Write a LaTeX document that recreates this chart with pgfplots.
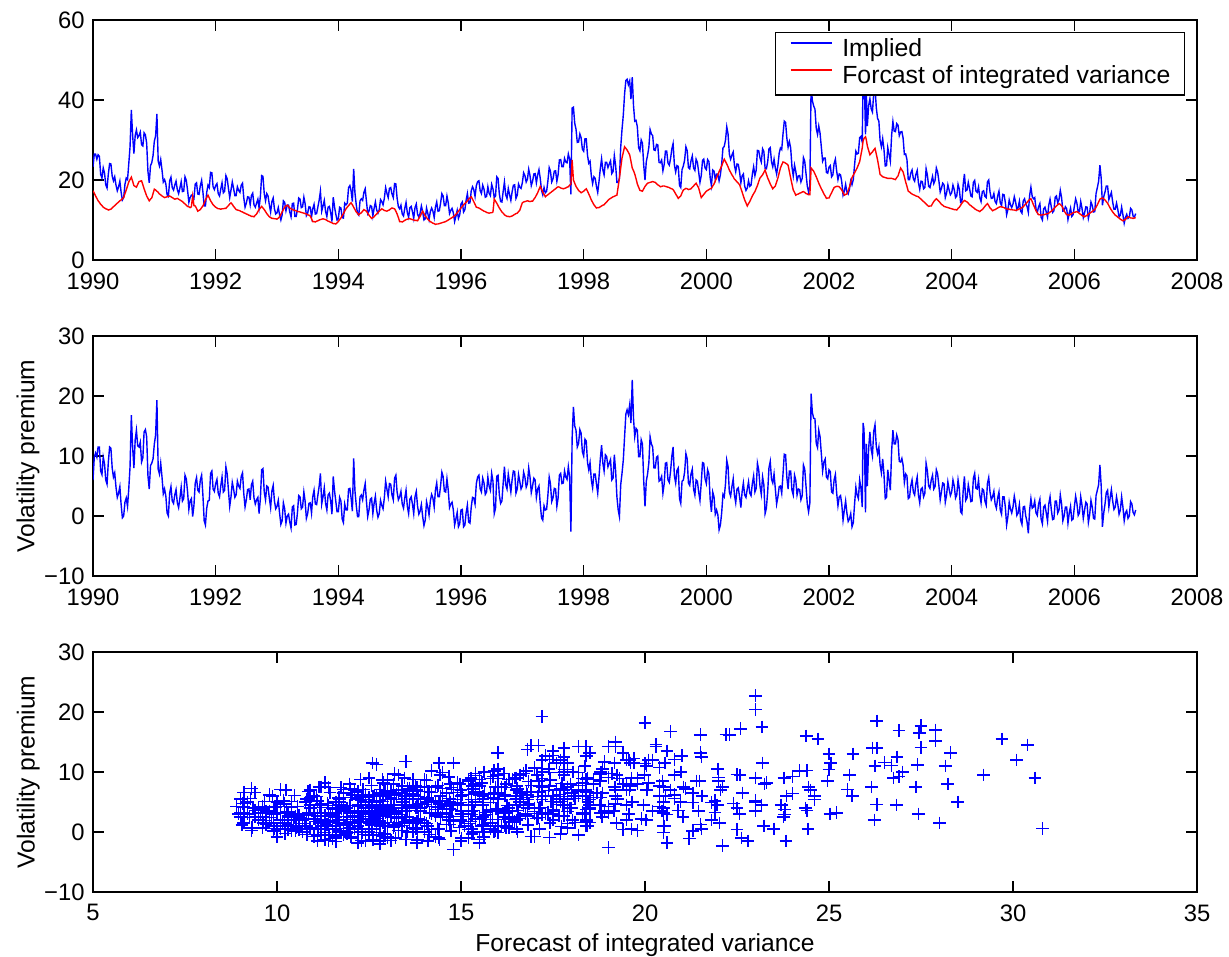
\documentclass[border=0pt]{standalone}
\usepackage{fontspec}
\setmainfont{Liberation Sans}
\usepackage{pgfplots}
\usepackage{pgfplotstable}
\pgfplotsset{compat=1.18}
\pgfplotstableread{
t fc pr im
1990.000 17.3 6.0 23.3
1990.021 16.7 9.8 26.5
1990.042 16.0 10.5 26.5
1990.063 15.4 9.8 25.2
1990.083 14.8 11.5 26.3
1990.104 14.4 11.5 25.9
1990.125 13.9 7.5 21.4
1990.146 13.6 6.9 20.5
1990.167 13.2 9.8 23.0
1990.188 13.0 8.7 21.7
1990.208 12.8 6.0 18.8
1990.229 12.7 5.3 18.0
1990.250 12.5 9.0 21.5
1990.271 12.6 11.5 24.1
1990.292 12.7 11.3 24.0
1990.313 13.0 8.0 21.0
1990.333 13.3 6.5 19.8
1990.354 13.6 7.2 20.8
1990.375 13.9 4.8 18.7
1990.396 14.2 3.1 17.3
1990.417 14.5 3.8 18.3
1990.438 14.8 4.9 19.7
1990.458 15.0 2.0 17.0
1990.479 15.3 -0.3 15.0
1990.500 15.6 0.0 15.6
1990.521 16.6 2.3 18.9
1990.542 17.5 3.0 20.5
1990.563 18.5 1.6 20.1
1990.583 19.5 4.5 24.0
1990.604 20.1 8.2 28.3
1990.625 20.7 16.8 37.5
1990.646 19.7 11.5 31.2
1990.667 18.6 8.0 26.6
1990.688 18.4 12.7 31.1
1990.708 18.2 14.3 32.5
1990.729 18.9 11.7 30.6
1990.750 19.6 11.5 31.1
1990.771 19.7 12.3 32.0
1990.792 19.8 9.0 28.8
1990.813 18.8 9.7 28.5
1990.833 17.8 14.0 31.8
1990.854 16.9 14.4 31.3
1990.875 16.0 13.2 29.2
1990.896 15.4 6.7 22.1
1990.917 14.8 4.5 19.3
1990.938 15.2 8.4 23.6
1990.958 15.5 8.8 24.3
1990.979 16.6 9.5 26.1
1991.000 17.7 12.0 29.7
1991.021 17.5 13.5 31.0
1991.042 17.2 19.3 36.5
1991.063 16.9 7.8 24.7
1991.083 16.5 7.0 23.5
1991.104 16.3 8.8 25.1
1991.125 16.0 6.5 22.5
1991.146 15.8 3.7 19.5
1991.167 15.6 4.5 20.1
1991.188 15.7 3.3 19.0
1991.208 15.8 0.5 16.3
1991.229 15.9 0.0 15.9
1991.250 16.0 3.8 19.8
1991.271 15.8 4.9 20.7
1991.292 15.6 2.5 18.1
1991.313 15.4 2.1 17.5
1991.333 15.2 3.5 18.7
1991.354 15.3 4.4 19.7
1991.375 15.4 2.2 17.6
1991.396 15.2 1.4 16.6
1991.417 15.0 3.0 18.0
1991.438 14.8 4.8 19.6
1991.458 14.6 2.5 17.1
1991.479 14.3 2.9 17.2
1991.500 14.0 6.8 20.8
1991.521 13.7 6.2 19.9
1991.542 13.4 4.0 17.4
1991.563 13.3 1.1 14.4
1991.583 13.1 2.5 15.6
1991.604 13.3 2.9 16.2
1991.625 16.0 -0.1 15.9
1991.646 13.6 1.8 15.4
1991.667 13.5 5.5 19.0
1991.688 12.9 6.4 19.3
1991.708 12.2 4.3 16.5
1991.729 12.4 4.0 16.4
1991.750 12.6 6.0 18.6
1991.771 13.1 6.8 19.9
1991.792 13.5 3.5 17.0
1991.813 14.3 -0.8 13.5
1991.833 15.0 -1.5 13.5
1991.854 15.6 1.3 16.9
1991.875 16.2 2.5 18.7
1991.896 15.5 2.6 18.1
1991.917 14.8 7.1 21.9
1991.938 14.3 7.5 21.8
1991.958 13.8 4.5 18.3
1991.979 13.5 4.1 17.6
1992.000 13.2 5.4 18.6
1992.021 13.0 6.1 19.1
1992.042 12.8 3.8 16.6
1992.063 12.8 3.2 16.0
1992.083 12.7 5.0 17.7
1992.104 12.8 6.5 19.3
1992.125 12.8 4.0 16.8
1992.146 12.9 4.3 17.2
1992.167 12.9 8.2 21.1
1992.188 13.3 7.0 20.3
1992.208 13.6 4.3 17.9
1992.229 14.0 1.6 15.6
1992.250 14.3 3.2 17.5
1992.271 13.9 5.6 19.5
1992.292 13.4 4.5 17.9
1992.313 13.0 3.1 16.1
1992.333 12.6 3.5 16.1
1992.354 12.5 5.8 18.3
1992.375 12.4 5.0 17.4
1992.396 12.3 4.6 16.9
1992.417 12.1 6.6 18.7
1992.438 12.0 7.2 19.2
1992.458 11.8 3.8 15.6
1992.479 11.7 1.5 13.2
1992.500 11.5 2.7 14.2
1992.521 11.4 4.4 15.8
1992.542 11.2 4.5 15.7
1992.563 11.1 2.7 13.8
1992.583 10.9 5.2 16.1
1992.604 10.9 5.8 16.7
1992.625 10.8 3.0 13.8
1992.646 11.2 2.0 13.2
1992.667 11.5 2.7 14.2
1992.688 12.1 3.1 15.2
1992.708 12.6 0.4 13.0
1992.729 13.0 2.9 15.9
1992.750 13.4 7.7 21.1
1992.771 13.0 7.9 20.9
1992.792 12.6 4.0 16.6
1992.813 12.1 2.7 14.8
1992.833 11.6 5.0 16.6
1992.854 11.2 4.8 16.0
1992.875 10.8 3.0 13.8
1992.896 10.6 1.4 12.0
1992.917 10.4 4.2 14.6
1992.938 10.4 5.1 15.5
1992.958 10.3 2.5 12.8
1992.979 10.3 1.2 11.5
1993.000 10.2 1.6 11.8
1993.021 10.5 2.6 13.1
1993.042 10.8 0.5 11.3
1993.063 11.4 -1.4 10.0
1993.083 12.0 -0.8 11.2
1993.104 12.6 2.2 14.8
1993.125 13.2 1.2 14.4
1993.146 13.5 -1.2 12.3
1993.167 13.7 0.0 13.7
1993.188 13.4 0.3 13.7
1993.208 13.0 -1.0 12.0
1993.229 12.8 -2.0 10.8
1993.250 12.6 1.5 14.1
1993.271 12.5 1.7 14.2
1993.292 12.4 -1.5 10.9
1993.313 12.3 -1.4 10.9
1993.333 12.1 0.5 12.6
1993.354 12.1 3.4 15.5
1993.375 12.0 3.2 15.2
1993.396 11.9 1.2 13.1
1993.417 11.8 1.5 13.3
1993.438 11.7 4.0 15.7
1993.458 11.6 2.5 14.1
1993.479 11.5 -0.4 11.1
1993.500 11.3 0.4 11.7
1993.521 11.2 2.1 13.3
1993.542 11.0 2.2 13.2
1993.563 10.3 0.5 10.8
1993.583 9.6 3.2 12.8
1993.604 9.6 4.3 13.9
1993.625 9.5 2.0 11.5
1993.646 9.7 1.9 11.6
1993.667 9.8 3.5 13.3
1993.688 10.0 5.0 15.0
1993.708 10.1 7.1 17.2
1993.729 10.2 2.0 12.2
1993.750 10.3 3.2 13.5
1993.771 10.2 4.7 14.9
1993.792 10.1 2.1 12.2
1993.813 9.9 1.0 10.9
1993.833 9.7 3.5 13.2
1993.854 9.6 3.8 13.4
1993.875 9.4 2.5 11.9
1993.896 9.3 0.3 9.6
1993.917 9.1 6.6 15.7
1993.938 9.1 4.2 13.3
1993.958 9.0 2.5 11.5
1993.979 9.3 0.7 10.0
1994.000 9.6 0.7 10.3
1994.021 10.1 3.1 13.2
1994.042 10.5 2.5 13.0
1994.063 11.1 -0.5 10.6
1994.083 11.6 -1.1 10.5
1994.104 12.2 2.0 14.2
1994.125 12.8 1.0 13.8
1994.146 13.2 1.0 14.2
1994.167 13.6 4.5 18.1
1994.188 14.0 4.6 18.6
1994.208 14.3 3.0 17.3
1994.229 13.8 0.8 14.6
1994.250 13.2 9.6 22.8
1994.271 12.6 4.2 16.8
1994.292 12.0 1.8 13.8
1994.313 11.7 -0.1 11.6
1994.333 11.3 -0.1 11.2
1994.354 11.6 3.2 14.8
1994.375 11.8 3.5 15.3
1994.396 12.2 2.7 14.9
1994.417 12.6 4.3 16.9
1994.438 12.4 5.4 17.8
1994.458 12.2 2.5 14.7
1994.479 11.7 -0.1 11.6
1994.500 11.2 1.0 12.2
1994.521 10.8 2.8 13.6
1994.542 10.4 3.0 13.4
1994.563 10.6 0.4 11.0
1994.583 10.8 2.1 12.9
1994.604 11.2 3.3 14.5
1994.625 11.5 1.0 12.5
1994.646 11.9 -0.2 11.7
1994.667 12.2 0.4 12.6
1994.688 12.5 2.6 15.1
1994.708 12.8 1.8 14.6
1994.729 12.6 1.2 13.8
1994.750 12.4 3.0 15.4
1994.771 12.3 5.8 18.1
1994.792 12.2 4.5 16.7
1994.813 12.4 3.2 15.6
1994.833 12.5 5.4 17.9
1994.854 12.8 5.3 18.1
1994.875 13.0 3.5 16.5
1994.896 12.9 2.7 15.6
1994.917 12.8 6.3 19.1
1994.938 12.2 6.8 19.0
1994.958 11.5 4.0 15.5
1994.979 10.6 2.7 13.3
1995.000 9.6 3.2 12.8
1995.021 9.6 4.1 13.7
1995.042 9.5 2.0 11.5
1995.063 9.7 1.3 11.0
1995.083 9.9 3.0 12.9
1995.104 10.1 4.3 14.4
1995.125 10.2 1.6 11.8
1995.146 10.3 0.4 10.7
1995.167 10.3 2.8 13.1
1995.188 10.2 3.2 13.4
1995.208 10.1 2.0 12.1
1995.229 10.0 0.4 10.4
1995.250 9.9 3.2 13.1
1995.271 9.9 4.1 14.0
1995.292 9.8 1.6 11.4
1995.313 10.4 0.3 10.7
1995.333 10.9 0.8 11.7
1995.354 11.6 1.9 13.5
1995.375 12.2 -0.1 12.1
1995.396 11.6 -1.6 10.0
1995.417 11.0 -0.7 10.3
1995.438 10.6 2.4 13.0
1995.458 10.2 1.5 11.7
1995.479 9.9 0.2 10.1
1995.500 9.6 2.5 12.1
1995.521 9.4 3.6 13.0
1995.542 9.2 3.0 12.2
1995.563 9.1 1.5 10.6
1995.583 8.9 4.3 13.2
1995.604 9.0 5.5 14.5
1995.625 9.0 3.2 12.2
1995.646 9.1 3.2 12.3
1995.667 9.2 5.0 14.2
1995.688 9.3 7.3 16.6
1995.708 9.4 6.6 16.0
1995.729 9.5 4.1 13.6
1995.750 9.6 4.0 13.6
1995.771 9.8 6.2 16.0
1995.792 10.0 4.3 14.3
1995.813 10.2 1.4 11.6
1995.833 10.4 2.0 12.4
1995.854 10.6 2.3 12.9
1995.875 10.8 1.0 11.8
1995.896 11.1 -1.5 9.6
1995.917 11.4 -0.5 10.9
1995.938 11.8 0.6 12.4
1995.958 12.2 -1.8 10.4
1995.979 12.6 -1.3 11.3
1996.000 13.0 1.0 14.0
1996.021 13.4 1.1 14.5
1996.042 13.8 -1.8 12.0
1996.063 14.1 -1.5 12.6
1996.083 14.4 0.5 14.9
1996.104 14.8 1.8 16.6
1996.125 15.2 -1.0 14.2
1996.146 15.5 -1.2 14.3
1996.167 15.8 1.5 17.3
1996.188 15.2 3.1 18.3
1996.208 14.6 3.0 17.6
1996.229 13.9 2.0 15.9
1996.250 13.2 5.4 18.6
1996.271 13.1 6.5 19.6
1996.292 13.0 6.8 19.8
1996.313 12.8 4.5 17.3
1996.333 12.6 4.0 16.6
1996.354 12.4 6.3 18.7
1996.375 12.2 5.5 17.7
1996.396 12.1 3.6 15.7
1996.417 11.9 4.0 15.9
1996.438 11.8 6.5 18.3
1996.458 11.7 5.0 16.7
1996.479 11.8 4.3 16.1
1996.500 11.8 7.1 18.9
1996.521 12.0 5.8 17.8
1996.542 15.2 0.4 15.6
1996.563 14.7 1.3 16.0
1996.583 14.2 6.6 20.8
1996.604 13.6 6.8 20.4
1996.625 13.0 3.5 16.5
1996.646 12.5 2.1 14.6
1996.667 12.0 2.5 14.5
1996.688 11.7 5.5 17.2
1996.708 11.3 8.2 19.5
1996.729 11.1 5.2 16.3
1996.750 10.9 4.5 15.4
1996.771 10.9 7.0 17.9
1996.792 10.8 5.5 16.3
1996.813 10.9 4.0 14.9
1996.833 11.0 6.0 17.0
1996.854 11.2 7.5 18.7
1996.875 11.4 7.4 18.8
1996.896 11.6 3.8 15.4
1996.917 11.7 4.5 16.2
1996.938 12.1 6.9 19.0
1996.958 12.4 5.8 18.2
1996.979 13.4 4.5 17.9
1997.000 14.3 5.0 19.3
1997.021 14.5 7.3 21.8
1997.042 14.6 6.5 21.1
1997.063 14.7 4.8 19.5
1997.083 14.8 5.4 20.2
1997.104 14.7 8.0 22.7
1997.125 14.6 6.5 21.1
1997.146 14.7 3.9 18.6
1997.167 14.7 5.0 19.7
1997.188 15.2 6.3 21.5
1997.208 15.6 6.0 21.6
1997.229 16.2 3.1 19.3
1997.250 16.8 4.5 21.3
1997.271 17.6 5.0 22.6
1997.292 18.4 2.0 20.4
1997.313 17.7 -0.3 17.4
1997.333 17.0 -0.7 16.3
1997.354 16.4 1.7 18.1
1997.375 15.8 1.0 16.8
1997.396 16.1 1.1 17.2
1997.417 16.3 3.5 19.8
1997.438 16.6 6.5 23.1
1997.458 16.8 5.4 22.2
1997.479 17.1 2.4 19.5
1997.500 17.3 3.0 20.3
1997.521 17.6 4.6 22.2
1997.542 17.8 4.5 22.3
1997.563 18.1 1.6 19.7
1997.583 18.3 3.0 21.3
1997.604 18.2 6.8 25.0
1997.625 18.0 7.1 25.1
1997.646 17.9 5.4 23.3
1997.667 17.8 5.5 23.3
1997.688 17.9 7.5 25.4
1997.708 18.0 6.5 24.5
1997.729 18.2 6.1 24.3
1997.750 18.3 8.2 26.5
1997.771 18.7 6.5 25.2
1997.792 19.0 -2.6 16.4
1997.812 25.0 13.0 38.0
1997.833 20.0 18.2 38.2
1997.854 19.2 15.0 34.2
1997.875 18.4 14.3 32.7
1997.896 17.9 11.5 29.4
1997.917 17.4 12.1 29.5
1997.938 17.1 14.4 31.5
1997.958 16.8 13.8 30.6
1997.979 17.0 10.7 27.7
1998.000 17.2 10.0 27.2
1998.021 17.5 12.8 30.3
1998.042 17.8 12.5 30.3
1998.063 17.2 8.9 26.1
1998.083 16.5 7.7 24.2
1998.104 15.8 8.9 24.7
1998.125 15.0 6.0 21.0
1998.146 14.4 4.7 19.1
1998.167 13.8 7.0 20.8
1998.188 13.4 7.0 20.4
1998.208 13.0 5.4 18.4
1998.229 13.1 3.8 16.9
1998.250 13.1 6.5 19.6
1998.271 13.3 9.5 22.8
1998.292 13.5 11.8 25.3
1998.313 13.7 8.8 22.5
1998.333 13.8 7.5 21.3
1998.354 14.2 10.2 24.4
1998.375 14.5 9.9 24.4
1998.396 14.9 8.2 23.1
1998.417 15.2 8.8 24.0
1998.438 15.4 9.4 24.8
1998.458 15.6 6.0 21.6
1998.479 15.8 6.3 22.1
1998.500 15.9 10.2 26.1
1998.521 16.1 7.5 23.6
1998.542 16.2 3.2 19.4
1998.563 18.4 1.0 19.4
1998.583 20.5 -0.1 20.4
1998.604 23.0 5.2 28.2
1998.625 25.5 7.1 32.6
1998.646 26.9 9.3 36.2
1998.667 28.3 13.2 41.5
1998.688 27.9 17.0 44.9
1998.708 27.5 17.7 45.2
1998.729 26.9 16.9 43.8
1998.750 26.3 18.5 44.8
1998.771 24.7 15.5 40.2
1998.792 23.0 22.7 45.7
1998.813 22.3 16.2 38.5
1998.833 21.5 13.2 34.7
1998.854 20.3 14.6 34.9
1998.875 19.0 14.3 33.3
1998.896 18.2 9.9 28.1
1998.917 17.4 9.9 27.3
1998.938 17.3 12.7 30.0
1998.958 17.2 12.0 29.2
1998.979 17.8 5.9 23.7
1999.000 18.4 1.6 20.0
1999.021 18.8 5.8 24.6
1999.042 19.2 7.0 26.2
1999.063 19.3 8.9 28.2
1999.083 19.4 13.2 32.6
1999.104 19.5 12.0 31.5
1999.125 19.6 11.5 31.1
1999.146 19.5 8.0 27.5
1999.167 19.4 8.0 27.4
1999.188 19.1 9.8 28.9
1999.208 18.8 10.0 28.8
1999.229 18.6 5.8 24.4
1999.250 18.3 6.0 24.3
1999.271 18.4 6.6 25.0
1999.292 18.5 3.8 22.3
1999.313 18.5 5.4 23.9
1999.333 18.4 8.8 27.2
1999.354 18.3 8.9 27.2
1999.375 18.2 6.0 24.2
1999.396 18.1 5.6 23.7
1999.417 17.9 7.5 25.4
1999.438 17.8 10.0 27.8
1999.458 17.6 11.5 29.1
1999.479 17.1 6.7 23.8
1999.500 16.5 5.5 22.0
1999.521 16.0 7.6 23.6
1999.542 15.4 8.0 23.4
1999.563 15.7 2.9 18.6
1999.583 16.0 2.1 18.1
1999.604 16.8 5.8 22.6
1999.625 17.5 6.0 23.5
1999.646 17.7 7.3 25.0
1999.667 17.9 10.4 28.3
1999.688 17.8 9.5 27.3
1999.708 17.6 5.5 23.1
1999.729 17.7 5.1 22.8
1999.750 17.8 7.0 24.8
1999.771 18.2 7.8 26.0
1999.792 18.5 4.5 23.0
1999.813 18.9 3.5 22.4
1999.833 19.2 6.0 25.2
1999.854 18.6 5.8 24.4
1999.875 18.0 4.0 22.0
1999.896 16.8 2.6 19.4
1999.917 15.6 5.5 21.1
1999.938 16.0 8.9 24.9
1999.958 16.4 8.8 25.2
1999.979 16.8 6.2 23.0
2000.000 17.2 5.4 22.6
2000.021 17.4 7.7 25.1
2000.042 17.6 7.0 24.6
2000.063 17.8 2.7 20.5
2000.083 17.9 0.7 18.6
2000.104 18.5 4.0 22.5
2000.125 19.0 3.2 22.2
2000.146 19.8 0.3 20.1
2000.167 20.5 1.0 21.5
2000.188 21.3 0.2 21.5
2000.208 22.1 -2.3 19.8
2000.229 22.8 -1.5 21.3
2000.250 23.5 0.5 24.0
2000.271 24.4 3.6 28.0
2000.292 25.2 3.2 28.4
2000.313 24.6 5.4 30.0
2000.333 24.0 9.3 33.3
2000.354 23.3 8.2 31.5
2000.375 22.5 4.0 26.5
2000.396 21.9 3.3 25.2
2000.417 21.3 4.9 26.2
2000.438 20.8 6.2 27.0
2000.458 20.2 3.5 23.7
2000.479 19.9 2.2 22.1
2000.500 19.5 4.5 24.0
2000.521 19.2 4.7 23.9
2000.542 18.8 3.2 22.0
2000.563 17.9 1.4 19.3
2000.583 17.0 4.0 21.0
2000.604 16.0 5.5 21.5
2000.625 15.0 3.5 18.5
2000.646 14.3 3.1 17.4
2000.667 13.5 4.5 18.0
2000.688 14.1 5.7 19.8
2000.708 14.6 3.8 18.4
2000.729 15.3 3.4 18.7
2000.750 16.0 5.4 21.4
2000.771 16.6 6.7 23.3
2000.792 17.1 4.0 21.1
2000.813 17.9 4.6 22.5
2000.833 18.6 8.8 27.4
2000.854 19.6 7.7 27.3
2000.875 20.5 5.0 25.5
2000.896 20.9 3.6 24.5
2000.917 21.3 6.5 27.8
2000.938 21.9 5.2 27.1
2000.958 22.5 0.4 22.9
2000.979 21.5 1.3 22.8
2001.000 20.5 4.0 24.5
2001.021 19.8 8.0 27.8
2001.042 19.0 9.1 28.1
2001.063 18.4 6.1 24.5
2001.083 17.8 5.5 23.3
2001.104 18.2 7.0 25.2
2001.125 18.5 4.5 23.0
2001.146 19.5 2.0 21.5
2001.167 20.5 3.2 23.7
2001.188 21.8 4.9 26.7
2001.208 23.0 5.0 28.0
2001.229 23.8 3.8 27.6
2001.250 24.5 7.0 31.5
2001.271 24.4 10.3 34.7
2001.292 24.2 10.2 34.4
2001.313 24.0 6.4 30.4
2001.333 23.7 4.5 28.2
2001.354 22.1 7.5 29.6
2001.375 20.5 7.5 28.0
2001.396 19.0 4.3 23.3
2001.417 17.5 3.5 21.0
2001.438 16.9 6.8 23.7
2001.458 16.2 6.0 22.2
2001.479 16.4 3.5 19.9
2001.500 16.5 4.5 21.0
2001.521 16.7 4.4 21.1
2001.542 16.8 2.7 19.5
2001.563 17.0 3.4 20.4
2001.583 17.1 8.5 25.6
2001.604 16.9 7.8 24.7
2001.625 16.6 5.0 21.6
2001.646 16.5 2.0 18.5
2001.667 16.3 0.7 17.0
2001.688 16.3 2.2 18.5
2001.708 23.0 20.4 43.4
2001.729 22.6 17.2 39.8
2001.750 22.2 16.3 38.5
2001.771 21.5 16.2 37.7
2001.792 20.8 12.1 32.9
2001.813 20.0 11.4 31.4
2001.833 19.2 14.3 33.5
2001.854 18.5 13.2 31.7
2001.875 17.8 10.4 28.2
2001.896 17.2 7.5 24.7
2001.917 16.5 9.0 25.5
2001.938 16.0 9.5 25.5
2001.958 15.4 6.5 21.9
2001.979 15.5 6.2 21.7
2002.000 15.5 7.7 23.2
2002.021 16.2 7.4 23.6
2002.042 16.8 4.0 20.8
2002.063 17.5 3.8 21.3
2002.083 18.1 6.0 24.1
2002.104 18.3 6.9 25.2
2002.125 18.4 3.8 22.2
2002.146 18.4 1.7 20.1
2002.167 18.3 3.2 21.5
2002.188 17.9 3.4 21.3
2002.208 17.5 2.0 19.5
2002.229 16.9 -0.7 16.2
2002.250 16.2 1.0 17.2
2002.271 16.4 2.5 18.9
2002.292 16.5 0.5 17.0
2002.313 17.4 -0.9 16.5
2002.333 18.2 -0.5 17.7
2002.354 19.4 0.4 19.8
2002.375 20.6 -1.8 18.8
2002.396 21.2 -1.1 20.1
2002.417 21.8 2.0 23.8
2002.438 22.4 4.8 27.2
2002.458 23.0 3.5 26.5
2002.479 23.8 2.9 26.7
2002.500 24.6 6.0 30.6
2002.521 26.3 4.6 30.9
2002.542 28.0 1.5 29.5
2002.555 29.7 15.5 45.2
2002.570 30.4 14.5 44.9
2002.583 30.6 9.0 39.6
2002.595 30.8 0.6 31.4
2002.608 30.1 12.0 42.1
2002.625 28.5 5.0 33.5
2002.646 27.4 11.2 38.6
2002.667 26.3 14.0 40.3
2002.688 26.7 11.1 37.8
2002.708 27.0 10.0 37.0
2002.729 27.5 14.1 41.6
2002.750 27.9 15.2 43.1
2002.771 26.5 11.6 38.1
2002.792 25.0 10.4 35.4
2002.813 23.2 11.5 34.7
2002.833 21.4 8.5 29.9
2002.854 21.1 7.2 28.3
2002.875 20.8 9.5 30.3
2002.896 20.7 7.0 27.7
2002.917 20.6 2.9 23.5
2002.938 20.5 3.1 23.6
2002.958 20.4 7.7 28.1
2002.979 20.4 6.0 26.4
2003.000 20.4 4.3 24.7
2003.021 20.4 10.8 31.2
2003.042 20.3 14.3 34.6
2003.063 20.2 12.0 32.2
2003.083 20.1 12.0 32.1
2003.104 20.6 13.5 34.1
2003.125 21.0 12.7 33.7
2003.146 22.0 9.1 31.1
2003.167 23.0 9.0 32.0
2003.188 22.5 9.6 32.1
2003.208 22.0 8.5 30.5
2003.229 20.8 5.6 26.4
2003.250 19.5 7.0 26.5
2003.271 18.4 6.7 25.1
2003.292 17.2 2.9 20.1
2003.313 17.0 3.1 20.1
2003.333 16.7 5.0 21.7
2003.354 16.5 6.0 22.5
2003.375 16.3 4.0 20.3
2003.396 16.2 3.5 19.7
2003.417 16.0 5.4 21.4
2003.438 15.9 6.5 22.4
2003.458 15.8 3.5 19.3
2003.479 15.5 2.2 17.7
2003.500 15.2 4.5 19.7
2003.521 14.9 4.7 19.6
2003.542 14.6 3.2 17.8
2003.563 14.3 3.8 18.1
2003.583 14.0 8.8 22.8
2003.604 13.7 7.5 21.2
2003.625 13.4 5.0 18.4
2003.646 13.5 4.6 18.1
2003.667 13.5 6.0 19.5
2003.688 14.1 6.8 20.9
2003.708 14.6 4.5 19.1
2003.729 15.0 4.9 19.9
2003.750 15.3 7.7 23.0
2003.771 15.0 7.0 22.0
2003.792 14.7 5.0 19.7
2003.813 14.3 2.7 17.0
2003.833 13.9 4.0 17.9
2003.854 13.7 5.5 19.2
2003.875 13.4 5.4 18.8
2003.896 13.3 2.3 15.6
2003.917 13.2 3.5 16.7
2003.938 13.1 5.7 18.8
2003.958 13.0 4.5 17.5
2003.979 12.9 3.4 16.3
2004.000 12.8 4.0 16.8
2004.021 12.7 6.0 18.7
2004.042 12.6 5.0 17.6
2004.063 12.6 3.0 15.6
2004.083 12.5 3.5 16.0
2004.104 12.9 6.0 18.9
2004.125 13.2 4.5 17.7
2004.146 13.7 0.7 14.4
2004.167 14.2 0.4 14.6
2004.188 14.6 4.3 18.9
2004.208 14.9 6.6 21.5
2004.229 14.7 2.6 17.3
2004.250 14.5 3.0 17.5
2004.271 14.2 5.2 19.4
2004.292 13.8 4.0 17.8
2004.313 13.6 2.4 16.0
2004.333 13.3 2.5 15.8
2004.354 13.1 6.3 19.4
2004.375 12.8 7.1 19.9
2004.396 12.6 4.6 17.2
2004.417 12.4 4.5 16.9
2004.438 12.3 6.0 18.3
2004.458 12.1 3.5 15.6
2004.479 12.4 2.2 14.6
2004.500 12.6 4.5 17.1
2004.521 13.0 4.3 17.3
2004.542 13.4 2.5 15.9
2004.563 13.8 1.8 15.6
2004.583 14.1 5.4 19.5
2004.604 13.6 6.4 20.0
2004.625 13.0 4.0 17.0
2004.646 12.7 2.7 15.4
2004.667 12.3 3.2 15.5
2004.688 12.5 4.1 16.6
2004.708 12.6 2.0 14.6
2004.729 12.8 1.3 14.1
2004.750 13.0 3.0 16.0
2004.771 13.2 4.0 17.2
2004.792 13.3 1.0 14.3
2004.813 13.3 0.3 13.6
2004.833 13.2 3.2 16.4
2004.854 13.1 3.2 16.3
2004.875 12.9 1.5 14.4
2004.896 12.8 -1.5 11.3
2004.917 12.7 -0.1 12.6
2004.938 12.7 2.3 15.0
2004.958 12.6 1.2 13.8
2004.979 12.6 0.5 13.1
2005.000 12.5 1.5 14.0
2005.021 12.5 3.3 15.8
2005.042 12.4 2.1 14.5
2005.063 12.5 0.1 12.6
2005.083 12.6 0.5 13.1
2005.104 12.8 1.9 14.7
2005.125 12.9 -0.7 12.2
2005.146 13.1 -1.4 11.7
2005.167 13.3 1.5 14.8
2005.188 13.7 1.6 15.3
2005.208 14.0 0.0 14.0
2005.229 14.4 -1.0 13.4
2005.250 14.8 -2.9 11.9
2005.271 15.1 1.0 16.1
2005.292 15.3 2.9 18.2
2005.313 14.6 1.3 15.9
2005.333 13.8 1.5 15.3
2005.354 13.1 2.5 15.6
2005.375 12.3 0.5 12.8
2005.396 11.8 0.1 11.9
2005.417 11.3 2.0 13.3
2005.438 11.3 2.8 14.1
2005.458 11.2 -0.5 10.7
2005.479 11.3 -1.3 10.0
2005.500 11.3 1.5 12.8
2005.521 11.4 1.8 13.2
2005.542 11.5 0.5 12.0
2005.563 11.6 -0.9 10.7
2005.583 11.7 2.0 13.7
2005.604 12.0 3.2 15.2
2005.625 12.2 1.0 13.2
2005.646 12.5 -0.6 11.9
2005.667 12.8 -0.5 12.3
2005.688 13.2 2.5 15.7
2005.708 13.5 2.5 16.0
2005.729 13.8 0.5 14.3
2005.750 14.1 1.0 15.1
2005.771 13.9 3.5 17.4
2005.792 13.6 2.0 15.6
2005.813 13.0 -0.8 12.2
2005.833 12.3 0.0 12.3
2005.854 11.8 1.5 13.3
2005.875 11.3 1.5 12.8
2005.896 11.3 -1.2 10.1
2005.917 11.2 0.5 11.7
2005.938 11.4 1.6 13.0
2005.958 11.6 -0.7 10.9
2005.979 11.8 -0.5 11.3
2006.000 11.9 1.5 13.4
2006.021 12.0 3.3 15.3
2006.042 12.1 2.1 14.2
2006.063 11.9 0.1 12.0
2006.083 11.6 0.5 12.1
2006.104 11.4 3.2 14.6
2006.125 11.1 1.8 12.9
2006.146 11.0 -0.4 10.6
2006.167 10.8 1.0 11.8
2006.188 11.0 2.3 13.3
2006.208 11.2 2.0 13.2
2006.229 11.5 -1.1 10.4
2006.250 11.7 0.2 11.9
2006.271 11.9 2.6 14.5
2006.292 12.1 1.5 13.6
2006.313 12.4 -0.4 12.0
2006.333 12.6 -0.5 12.1
2006.354 13.2 3.4 16.6
2006.375 13.8 4.3 18.1
2006.396 14.5 5.2 19.7
2006.417 15.2 8.5 23.7
2006.438 15.4 5.0 20.4
2006.458 15.5 -1.8 13.7
2006.479 15.3 0.5 15.8
2006.500 15.0 2.0 17.0
2006.521 14.6 3.9 18.5
2006.542 14.2 4.3 18.5
2006.563 13.6 1.5 15.1
2006.583 13.0 3.0 16.0
2006.604 12.5 4.4 16.9
2006.625 12.0 2.5 14.5
2006.646 11.6 1.1 12.7
2006.667 11.2 1.5 12.7
2006.688 11.0 3.2 14.2
2006.708 10.7 2.0 12.7
2006.729 10.5 0.3 10.8
2006.750 10.2 1.0 11.2
2006.771 10.0 3.2 13.2
2006.792 9.8 1.5 11.3
2006.813 10.0 -0.8 9.2
2006.833 10.1 0.5 10.6
2006.854 10.5 0.9 11.4
2006.875 10.8 -0.4 10.4
2006.896 10.7 0.0 10.7
2006.917 10.5 2.4 12.9
2006.938 10.5 2.0 12.5
2006.958 10.4 0.6 11.0
2006.979 10.5 0.2 10.7
2007.000 10.6 1.0 11.6
}\data

% further points of the dense scatter cloud (forecast, premium)
\pgfplotstableread{
x y
9.05 1.2
8.95 3.0
9.08 4.8
9.32 0.8
9.25 2.4
9.35 4.0
9.28 5.6
9.62 1.5
9.55 3.3
9.66 5.1
9.93 0.6
9.85 2.4
9.95 4.2
9.88 6.0
10.22 -0.2
10.15 1.6
10.25 3.4
10.18 5.2
10.24 7.0
10.52 0.7
10.46 2.5
10.55 4.3
10.48 6.1
10.83 -0.4
10.76 1.4
10.85 3.2
10.78 5.0
10.84 6.8
11.12 0.5
11.05 2.3
11.15 4.1
11.08 5.9
11.14 7.5
11.42 -0.6
11.36 1.2
11.45 3.0
11.38 4.8
11.44 6.6
11.72 0.3
11.66 2.1
11.75 3.9
11.68 5.7
11.74 7.4
12.03 -1.0
11.96 0.8
12.05 2.6
11.98 4.4
12.04 6.2
11.97 8.0
12.33 -0.1
12.26 1.7
12.35 3.5
12.28 5.3
12.34 7.1
12.27 8.8
12.62 -1.2
12.56 0.6
12.65 2.4
12.58 4.2
12.64 6.0
12.57 7.8
12.93 -0.3
12.86 1.5
12.95 3.3
12.88 5.1
12.94 6.9
12.87 8.7
13.22 -1.0
13.16 0.8
13.25 2.6
13.18 4.4
13.24 6.2
13.17 8.0
13.53 0.0
13.46 1.8
13.55 3.6
13.48 5.4
13.54 7.2
13.47 9.0
13.82 -1.3
13.76 0.5
13.85 2.3
13.78 4.1
13.84 5.9
13.77 7.7
14.13 -0.4
14.06 1.4
14.15 3.2
14.08 5.0
14.14 6.8
14.07 8.6
14.42 -1.2
14.36 0.6
14.45 2.4
14.38 4.2
14.44 6.0
14.37 7.8
14.43 9.5
14.73 0.2
14.66 2.0
14.75 3.8
14.68 5.6
14.74 7.4
14.67 9.2
15.02 -1.0
14.96 0.8
15.05 2.6
14.98 4.4
15.04 6.2
14.97 8.0
15.33 0.0
15.26 1.8
15.35 3.6
15.28 5.4
15.34 7.2
15.27 9.0
15.62 -0.8
15.56 1.0
15.65 2.8
15.58 4.6
15.64 6.4
15.57 8.2
15.63 10.0
15.93 0.3
15.86 2.1
15.95 3.9
15.88 5.7
15.94 7.5
15.87 9.3
16.22 0.8
16.16 2.6
16.25 4.4
16.18 6.2
16.24 8.0
16.17 9.8
16.53 0.0
16.46 1.8
16.55 3.6
16.48 5.4
16.54 7.2
16.47 9.0
16.82 1.2
16.76 3.0
16.85 4.8
16.78 6.6
16.84 8.4
16.77 10.2
17.13 0.5
17.06 2.3
17.15 4.1
17.08 5.9
17.14 7.7
17.07 9.5
17.42 1.5
17.36 3.3
17.45 5.1
17.38 6.9
17.44 8.7
17.37 10.5
17.73 0.9
17.66 2.7
17.75 4.5
17.68 6.3
17.74 8.1
17.67 9.9
18.03 2.0
17.96 4.0
18.05 6.0
17.98 8.0
18.04 10.0
18.43 1.0
18.36 3.0
18.45 5.0
18.38 7.0
18.44 9.0
18.37 11.0
18.83 2.5
18.76 4.5
18.85 6.5
18.78 8.5
18.84 10.5
19.23 1.5
19.16 3.5
19.25 5.5
19.18 7.5
19.24 9.5
19.17 11.5
19.63 0.5
19.56 3.0
19.65 5.0
19.58 7.0
19.64 9.0
19.57 12.0
20.03 2.0
19.96 4.5
20.05 7.0
19.98 9.5
20.04 11.0
20.53 1.0
20.46 3.5
20.55 6.0
20.48 8.5
20.54 11.5
21.03 2.5
20.96 5.0
21.05 7.5
20.98 10.0
21.53 0.5
21.46 3.5
21.55 6.0
21.48 8.5
21.54 12.5
22.03 1.5
21.96 4.5
22.05 7.0
21.98 10.5
22.63 -1.0
22.56 3.0
22.65 6.5
22.58 9.5
23.23 1.0
23.16 4.5
23.25 8.0
23.18 17.5
23.83 -1.5
23.76 2.5
23.85 6.0
23.78 9.0
24.43 0.5
24.36 4.0
24.45 7.5
24.38 16.0
25.03 3.0
24.96 8.5
25.05 11.5
25.63 6.0
25.56 9.5
25.65 13.0
26.23 2.0
26.16 7.5
26.25 11.0
26.18 14.0
26.83 4.5
26.76 9.0
26.85 12.5
27.43 3.0
27.36 7.5
27.45 16.5
28.23 8.0
28.16 11.0
29.20 9.5
}\cloud

\newcommand{\tickfont}{\fontsize{11.9bp}{14bp}\selectfont}
\newcommand{\lblfont}{\fontsize{12.3bp}{14.5bp}\selectfont}
\newcommand{\legfont}{\fontsize{12.4bp}{14.5bp}\selectfont}
\pgfplotsset{
  mystyle/.style={
    scale only axis, width=552bp, height=120bp,
    anchor=south west,
    axis line style={line width=0.6bp},
    tick align=inside, major tick length=5.5bp,
    every tick/.style={black, line width=0.6bp},
    tick label style={font=\tickfont, inner sep=0pt},
    label style={font=\lblfont, inner sep=0pt},
    xticklabel shift=6bp, yticklabel shift=4bp,
  },
  tsaxis/.style={
    xmin=1990, xmax=2008,
    xtick={1990,1992,1994,1996,1998,2000,2002,2004,2006,2008},
    xticklabels={1990,1992,1994,1996,1998,2000,2002,2004,2006,2008},
  },
  premaxis/.style={
    ymin=-10, ymax=30, ytick={-10,0,10,20,30},
    yticklabels={−10,0,10,20,30},
    ylabel={Volatility premium},
    ylabel style={at={(axis description cs:-0.048,0.5)}, anchor=south},
  },
}

\begin{document}
\begin{tikzpicture}
\useasboundingbox (0,0) rectangle (614.5bp,478.5bp);
% panel 1
\begin{axis}[mystyle, tsaxis, at={(46.5bp,348.5bp)},
  ymin=0, ymax=60, ytick={0,20,40,60}, yticklabels={0,20,40,60},
  legend style={at={(rel axis cs:1,1)}, xshift=-6bp, yshift=-6bp, anchor=north east,
    draw=black, line width=0.6bp, font=\legfont, inner xsep=7bp, inner ysep=3bp,
    row sep=2bp, column sep=5bp,
    nodes={inner sep=0pt, text height=9bp, text depth=2.6bp}},
  legend cell align=left,
  legend image code/.code={\draw[#1, line width=0.8bp] (0bp,3.6bp) -- (20.5bp,3.6bp);},
]
\addplot[blue, line width=0.7bp] table[x=t, y=im] {\data};
\addlegendentry{Implied}
\addplot[red, line width=0.7bp] table[x=t, y=fc] {\data};
\addlegendentry{Forcast of integrated variance}
\end{axis}
% panel 2
\begin{axis}[mystyle, tsaxis, premaxis, at={(46.5bp,190.5bp)}]
\addplot[blue, line width=0.7bp] table[x=t, y=pr] {\data};
\end{axis}
% panel 3
\begin{axis}[mystyle, premaxis, at={(46.5bp,32.5bp)},
  xmin=5, xmax=35, xtick={5,10,15,20,25,30,35}, xticklabels={5,10,15,20,25,30,35},
  xlabel={Forecast of integrated variance},
  xlabel style={at={(axis description cs:0.5,-0.171)}, anchor=north},
]
\addplot[blue, only marks, mark=+, mark size=3.2bp, mark options={line width=0.7bp}] table[x=x, y=y] {\cloud};
\addplot[blue, only marks, mark=+, mark size=3.2bp, mark options={line width=0.7bp}] table[x=fc, y=pr] {\data};
\end{axis}
\end{tikzpicture}
\end{document}
